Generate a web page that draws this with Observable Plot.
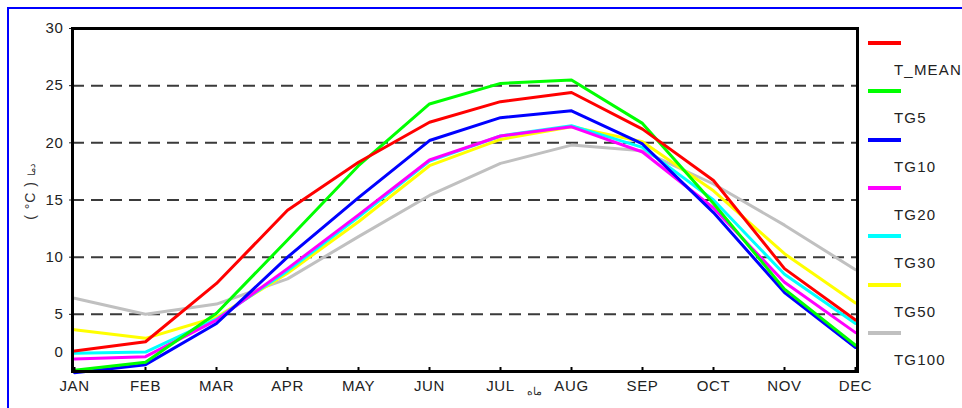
<!DOCTYPE html>
<html>
<head>
<meta charset="utf-8">
<script src="https://cdn.jsdelivr.net/npm/d3@7"></script>
<script src="https://cdn.jsdelivr.net/npm/@observablehq/plot@0.6"></script>
<style>
  html, body { margin: 0; padding: 0; background: #fff; width: 962px; height: 408px; overflow: hidden; }
  #wrap { position: relative; width: 962px; height: 408px; font-family: "Liberation Sans", Arial, sans-serif; }
  #border { position: absolute; left: 7px; top: 7px; width: 1100px; height: 600px; border-left: 2px solid #0000ff; border-top: 2px solid #0000ff; }
  #chart { position: absolute; left: 0; top: 0; }
  #chart svg text { letter-spacing: 0.6px; }
  .leg-line { position: absolute; height: 4px; width: 33px; left: 868px; }
  .leg-text { position: absolute; left: 894px; font-size: 15px; letter-spacing: 1.2px; color: #222; line-height: 16px; }
  #ylab { position: absolute; left: 30px; top: 192px; transform: translate(-50%, -50%) rotate(-90deg); white-space: nowrap; font-size: 14px; color: #333; letter-spacing: 1px; }
  #xlab { position: absolute; left: 527px; top: 385px; font-size: 11px; color: #333; direction: rtl; }
</style>
</head>
<body>
<div id="wrap">
  <div id="border"></div>
  <div id="chart"></div>
  <div id="ylab">( °C ) <span style="font-size:10px">دما</span></div>
  <div id="xlab">ماه</div>
</div>
<script>
const months = ["JAN","FEB","MAR","APR","MAY","JUN","JUL","AUG","SEP","OCT","NOV","DEC"];
const seriesNames = ["T_MEAN","TG5","TG10","TG20","TG30","TG50","TG100"];
const tMean = [1.8, 2.6, 7.7, 14.1, 18.3, 21.8, 23.6, 24.4, 21.2, 16.7, 9.0, 4.5];
const tg5   = [0.1, 0.8, 5.1, 11.5, 18.0, 23.4, 25.2, 25.5, 21.7, 14.7, 7.2, 2.3];
const tg10  = [-0.1, 0.6, 4.2, 10.0, 15.2, 20.2, 22.2, 22.8, 19.9, 13.9, 6.9, 2.1];
const tg20  = [1.1, 1.3, 4.5, 9.0, 13.7, 18.5, 20.6, 21.4, 19.2, 14.3, 7.8, 3.4];
const tg30  = [1.6, 1.7, 4.6, 8.8, 13.5, 18.4, 20.6, 21.5, 19.6, 15.0, 8.5, 4.2];
const tg50  = [3.65, 2.9, 4.75, 8.6, 13.1, 18.0, 20.3, 21.4, 20.1, 15.8, 10.3, 6.0];
const tg100 = [6.4, 5.0, 5.9, 8.1, 11.8, 15.4, 18.2, 19.8, 19.3, 16.4, 12.8, 8.9];
const yTicks = [5, 10, 15, 20, 25, 30];
const gridValues = [5, 10, 15, 20, 25];

const seriesValues = [tMean, tg5, tg10, tg20, tg30, tg50, tg100];
const colors = ["#ff0000", "#00ff00", "#0000ff", "#ff00ff", "#00ffff", "#ffff00", "#c0c0c0"];

const rows = [];
seriesNames.forEach((name, si) => {
  months.forEach((m, mi) => rows.push({series: name, month: m, value: seriesValues[si][mi]}));
});

const lineMarks = seriesNames.slice().reverse().map(name =>
  Plot.line(rows.filter(r => r.series === name), {
    x: "month", y: "value",
    stroke: colors[seriesNames.indexOf(name)],
    strokeWidth: 3
  })
);

const chart = Plot.plot({
  width: 962,
  height: 408,
  marginLeft: 72,
  marginRight: 105,
  marginTop: 28,
  marginBottom: 37,
  style: {fontFamily: "'Liberation Sans', Arial, sans-serif", fontSize: "15px", color: "#222", background: "transparent"},
  x: {type: "point", domain: months, padding: 0, tickSize: 0, tickPadding: 9, label: null},
  y: {domain: [0, 30], ticks: yTicks, tickSize: 3, tickPadding: 6, label: null},
  marks: [
    Plot.ruleY(gridValues, {stroke: "#3a3a3a", strokeWidth: 2, strokeDasharray: "12,7"}),
    ...lineMarks,
    Plot.ruleX(months, {x: d => d, y1: 0, y2: 0.35, stroke: "#000", strokeWidth: 2}),
    Plot.text(["0"], {y: [0], text: d => d, frameAnchor: "left", textAnchor: "end", dx: -9, dy: -19, fontSize: 15, fill: "#222"}),
    Plot.frame({stroke: "#000", strokeWidth: 3})
  ]
});
document.getElementById("chart").appendChild(chart);

const wrap = document.getElementById("wrap");
seriesNames.forEach((name, i) => {
  const ln = document.createElement("div");
  ln.className = "leg-line";
  ln.style.top = (41 + 48.3 * i) + "px";
  ln.style.background = colors[i];
  wrap.appendChild(ln);
  const tx = document.createElement("div");
  tx.className = "leg-text";
  tx.style.top = (62 + 48.3 * i) + "px";
  tx.textContent = name;
  wrap.appendChild(tx);
});
</script>
</body>
</html>
